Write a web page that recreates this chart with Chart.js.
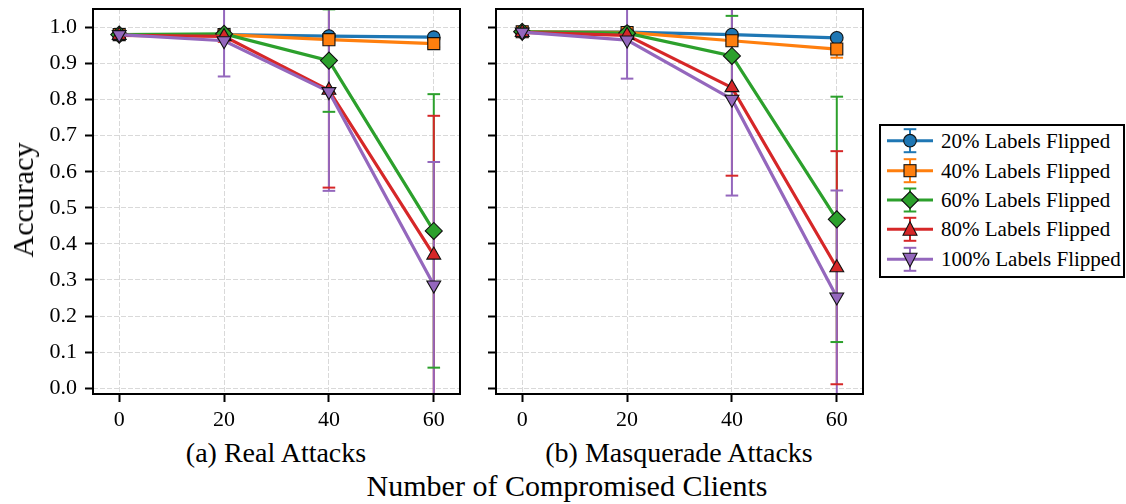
<!DOCTYPE html>
<html><head><meta charset="utf-8">
<script src="https://cdn.jsdelivr.net/npm/chart.js@4.4.0/dist/chart.umd.min.js"></script>
<style>
html,body{margin:0;padding:0;background:#fff;}
body{width:1126px;height:504px;position:relative;overflow:hidden;font-family:'Liberation Serif','Times New Roman',serif;color:#000;}
.abs{position:absolute;white-space:nowrap;line-height:1;}
.wrap{position:absolute;}
#legend{position:absolute;left:879px;top:124px;width:246px;height:154px;box-sizing:border-box;border:2px solid #000;background:#fff;}
#legend svg{position:absolute;left:-2px;top:-2px;}
.lt{position:absolute;font-size:21px;line-height:1;white-space:nowrap;}
</style></head><body>
<div class="wrap" style="left:0;top:0;width:470px;height:430px;"><canvas id="cL"></canvas></div>
<div class="wrap" style="left:480px;top:0;width:390px;height:430px;"><canvas id="cR"></canvas></div>
<div class="abs" id="ylab" style="font-size:30px;left:23px;top:200px;transform:translate(-50%,-50%) rotate(-90deg);">Accuracy</div>
<div class="abs" style="font-size:28px;left:276px;top:439px;transform:translateX(-50%);">(a) Real Attacks</div>
<div class="abs" style="font-size:28px;left:679px;top:439px;transform:translateX(-50%);">(b) Masquerade Attacks</div>
<div class="abs" style="font-size:30px;left:567px;top:471px;transform:translateX(-50%);">Number of Compromised Clients</div>
<div id="legend"></div>
<script>
// ---- data ----
const xValues = [0, 20, 40, 60];
const xTickValues = [0, 20, 40, 60];
const yTickValues = [0.0, 0.1, 0.2, 0.3, 0.4, 0.5, 0.6, 0.7, 0.8, 0.9, 1.0];
const seriesLabels = ['20% Labels Flipped', '40% Labels Flipped', '60% Labels Flipped', '80% Labels Flipped', '100% Labels Flipped'];

// (a) Real Attacks
const real20 = [0.980, 0.980, 0.976, 0.973];
const real40 = [0.980, 0.980, 0.966, 0.955];
const real60 = [0.980, 0.982, 0.908, 0.436];
const real80 = [0.978, 0.975, 0.826, 0.369];
const real100 = [0.980, 0.963, 0.822, 0.286];
const real20Err = [0.004, 0.004, 0.006, 0.006];
const real40Err = [0.004, 0.005, 0.008, 0.010];
const real60Err = [0.004, 0.006, 0.142, 0.379];
const real80Err = [0.005, 0.015, 0.270, 0.386];
const real100Err = [0.005, 0.099, 0.275, 0.341];

// (b) Masquerade Attacks
const masq20 = [0.988, 0.987, 0.980, 0.971];
const masq40 = [0.988, 0.986, 0.963, 0.940];
const masq60 = [0.988, 0.984, 0.921, 0.468];
const masq80 = [0.986, 0.978, 0.833, 0.334];
const masq100 = [0.987, 0.965, 0.801, 0.253];
const masq20Err = [0.003, 0.004, 0.006, 0.006];
const masq40Err = [0.003, 0.005, 0.010, 0.024];
const masq60Err = [0.003, 0.006, 0.111, 0.340];
const masq80Err = [0.004, 0.010, 0.244, 0.323];
const masq100Err = [0.004, 0.107, 0.267, 0.295];

// ---- styles ----
const FONT = "'Liberation Serif', 'Times New Roman', serif";
Chart.defaults.font.family = FONT;
const colors = ['#1f77b4', '#ff7f0e', '#2ca02c', '#d62728', '#9467bd'];
const markers = [
  {style: 'circle', r: 6.3, rot: 0},
  {style: 'rect', r: 8.5, rot: 0},
  {style: 'rectRot', r: 8.5, rot: 0},
  {style: 'triangle', r: 8, rot: 0},
  {style: 'triangle', r: 8, rot: 180}
];

function makeDatasets(vals, errs) {
  return vals.map((v, i) => ({
    label: seriesLabels[i],
    data: xValues.map((x, j) => ({x: x, y: v[j]})),
    errors: errs[i],
    borderColor: colors[i],
    backgroundColor: colors[i],
    pointBackgroundColor: colors[i],
    pointBorderColor: '#111',
    pointBorderWidth: 1.1,
    pointRadius: markers[i].r,
    pointStyle: markers[i].style,
    pointRotation: markers[i].rot,
    borderWidth: 3.2,
    tension: 0,
    fill: false,
    order: vals.length - 1 - i
  }));
}

const errorBarPlugin = {
  id: 'errorBars',
  beforeDatasetsDraw(chart) {
    const {ctx, chartArea: a, scales: {x, y}} = chart;
    ctx.save();
    ctx.beginPath();
    ctx.rect(a.left, a.top, a.right - a.left, a.bottom - a.top);
    ctx.clip();
    const ds = chart.data.datasets;
    ctx.lineWidth = 2;
    ctx.lineCap = 'butt';
    ds.forEach(d => {
      ctx.strokeStyle = d.borderColor;
      d.data.forEach((p, j) => {
        const e = d.errors[j];
        const px = x.getPixelForValue(p.x);
        ctx.beginPath();
        ctx.moveTo(px, y.getPixelForValue(p.y + e));
        ctx.lineTo(px, y.getPixelForValue(p.y - e));
        ctx.stroke();
      });
    });
    ds.forEach(d => {
      ctx.strokeStyle = d.borderColor;
      d.data.forEach((p, j) => {
        const e = d.errors[j];
        const px = x.getPixelForValue(p.x);
        [p.y + e, p.y - e].forEach(v => {
          const py = y.getPixelForValue(v);
          ctx.beginPath();
          ctx.moveTo(px - 6.3, py);
          ctx.lineTo(px + 6.3, py);
          ctx.stroke();
        });
      });
    });
    ctx.restore();
  }
};

const framePlugin = {
  id: 'frame',
  afterDatasetsDraw(chart) {
    const {ctx, chartArea: a} = chart;
    ctx.save();
    ctx.strokeStyle = '#000';
    ctx.lineWidth = 2;
    ctx.strokeRect(a.left, a.top, a.right - a.left, a.bottom - a.top);
    ctx.restore();
  }
};

function zeroPad(s) { s.paddingTop = 0; s.paddingBottom = 0; s.paddingLeft = 0; s.paddingRight = 0; }

function makeScales(showY) {
  const gridCommon = {
    color: '#d9d9d9', lineWidth: 1, borderDash: [5, 2],
    drawTicks: true, tickLength: 8, tickColor: '#000', tickWidth: 2, tickBorderDash: []
  };
  return {
    x: {
      type: 'linear', min: -5, max: 65,
      afterBuildTicks: s => { s.ticks = xTickValues.map(v => ({value: v})); },
      afterFit: s => { s.height = 36; zeroPad(s); },
      grid: gridCommon,
      border: {display: false, dash: [5, 2]},
      ticks: {color: '#000', font: {family: FONT, size: 22}, padding: 5, maxRotation: 0, autoSkip: false,
        callback: v => String(v)}
    },
    y: {
      type: 'linear', min: -0.016, max: 1.051,
      afterBuildTicks: s => { s.ticks = yTickValues.map(v => ({value: v})); },
      afterFit: s => { s.width = showY ? 93 : 16; zeroPad(s); },
      grid: gridCommon,
      border: {display: false, dash: [5, 2]},
      ticks: {display: showY, color: '#000', font: {family: FONT, size: 22}, padding: 8, autoSkip: false,
        callback: v => Number(v).toFixed(1)}
    }
  };
}

function makeChart(id, vals, errs, showY, padRight) {
  return new Chart(document.getElementById(id), {
    type: 'line',
    data: {datasets: makeDatasets(vals, errs)},
    options: {
      responsive: true, maintainAspectRatio: false, animation: false, events: [],
      layout: {autoPadding: false, padding: {top: 9, right: padRight, left: 0, bottom: 0}},
      plugins: {legend: {display: false}, tooltip: {enabled: false}},
      scales: makeScales(showY)
    },
    plugins: [errorBarPlugin, framePlugin]
  });
}

function init() {
  makeChart('cL', [real20, real40, real60, real80, real100],
    [real20Err, real40Err, real60Err, real80Err, real100Err], true, 10);
  makeChart('cR', [masq20, masq40, masq60, masq80, masq100],
    [masq20Err, masq40Err, masq60Err, masq80Err, masq100Err], false, 7);
}

// ---- legend (HTML + SVG icons) ----
(function buildLegend() {
  const lg = document.getElementById('legend');
  const rowY = [16.7, 46.7, 76, 105.3, 135.3];
  const mx = 31, x1 = 8, x2 = 54;
  let svg = '<svg width="246" height="154" xmlns="http://www.w3.org/2000/svg">';
  seriesLabels.forEach((lab, i) => {
    const cy = rowY[i], c = colors[i];
    svg += `<line x1="${x1}" y1="${cy}" x2="${x2}" y2="${cy}" stroke="${c}" stroke-width="3"/>`;
    svg += `<line x1="${mx}" y1="${cy - 11.5}" x2="${mx}" y2="${cy + 11.5}" stroke="${c}" stroke-width="2"/>`;
    svg += `<line x1="${mx - 6.3}" y1="${cy - 11.5}" x2="${mx + 6.3}" y2="${cy - 11.5}" stroke="${c}" stroke-width="2"/>`;
    svg += `<line x1="${mx - 6.3}" y1="${cy + 11.5}" x2="${mx + 6.3}" y2="${cy + 11.5}" stroke="${c}" stroke-width="2"/>`;
    const st = `fill="${c}" stroke="#111" stroke-width="1.1"`;
    if (i === 0) svg += `<circle cx="${mx}" cy="${cy}" r="6.3" ${st}/>`;
    if (i === 1) svg += `<rect x="${mx - 6}" y="${cy - 6}" width="12" height="12" ${st}/>`;
    if (i === 2) svg += `<polygon points="${mx},${cy - 8.5} ${mx + 8.5},${cy} ${mx},${cy + 8.5} ${mx - 8.5},${cy}" ${st}/>`;
    if (i === 3) svg += `<polygon points="${mx},${cy - 7.5} ${mx + 7},${cy + 6} ${mx - 7},${cy + 6}" ${st}/>`;
    if (i === 4) svg += `<polygon points="${mx},${cy + 7.5} ${mx + 7},${cy - 6} ${mx - 7},${cy - 6}" ${st}/>`;
  });
  svg += '</svg>';
  let html = svg;
  seriesLabels.forEach((lab, i) => {
    html += `<div class="lt" style="left:${62 - 2}px;top:${rowY[i] - 10 - 2}px;">${lab}</div>`;
  });
  lg.innerHTML = html;
})();

if (document.fonts && document.fonts.load) {
  Promise.all([document.fonts.load('22px "Liberation Serif"'), document.fonts.ready]).then(init, init);
} else {
  init();
}
</script>
</body></html>
